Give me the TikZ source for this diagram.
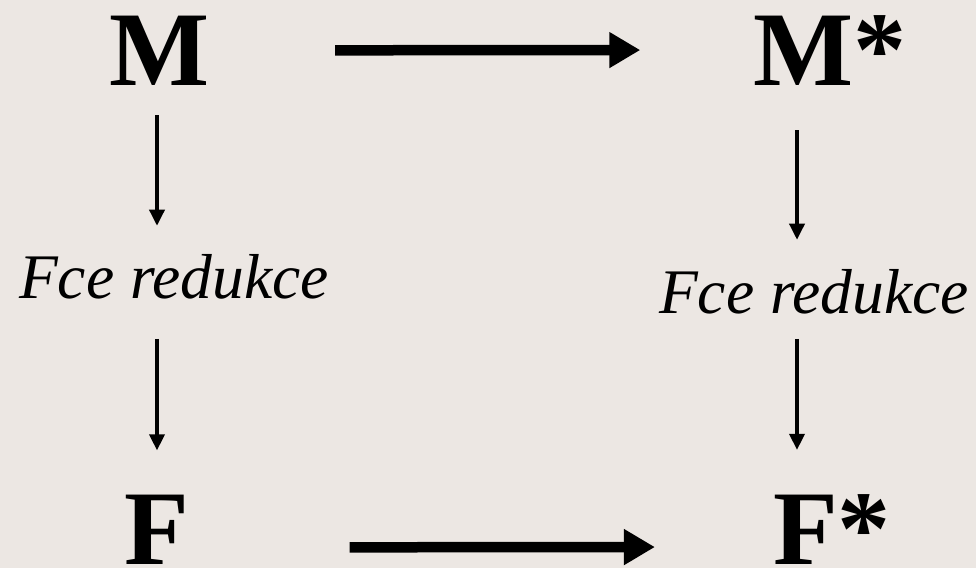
\documentclass[tikz,border=0pt]{standalone}
\usepackage{fontspec}
\setmainfont{Liberation Serif}
\usetikzlibrary{arrows.meta}
\definecolor{bg}{RGB}{236,231,227}
\begin{document}
\begin{tikzpicture}[x=1pt,y=-1pt,
  big/.style={inner sep=0pt,anchor=base,font=\fontsize{106}{120}\selectfont\bfseries},
  lbl/.style={inner sep=0pt,anchor=base,font=\fontsize{63.5}{70}\selectfont\itshape},
  thickarrow/.style={line width=10.5pt,-{Triangle[length=31pt,width=34pt]}},
  thinarrow/.style={line width=3.5pt,-{Triangle[length=16pt,width=15pt]}}]
\fill[bg] (0,0) rectangle (976,568);
\useasboundingbox (0,0) rectangle (976,568);
\node[big] (M) at (160,85) {M};
\node[big] (Ms) at (830,85) {M*};
\node[big] (F) at (157,564) {F};
\node[big] (Fs) at (832,564) {F*};
\node[lbl] (r1) at (174,298) {Fce redukce};
\node[lbl] (r2) at (814,313) {Fce redukce};
\draw[thickarrow] ([xshift=125]M.east) -- ([xshift=-113]Ms.west);
\draw[thickarrow] ([shift={(160,18)}]F.east) -- ([shift={(-118,18)}]Fs.west);
\draw[thinarrow] ([shift={(-3,30)}]M.south) -- ([shift={(-17,-28)}]r1.north);
\draw[thinarrow] ([shift={(-17,40)}]r1.south) -- ([shift={(0,-44)}]F.north);
\draw[thinarrow] ([shift={(-33,45)}]Ms.south) -- ([shift={(-17,-29)}]r2.north);
\draw[thinarrow] ([shift={(-17,25)}]r2.south) -- ([shift={(-35,-44)}]Fs.north);
\end{tikzpicture}
\end{document}
